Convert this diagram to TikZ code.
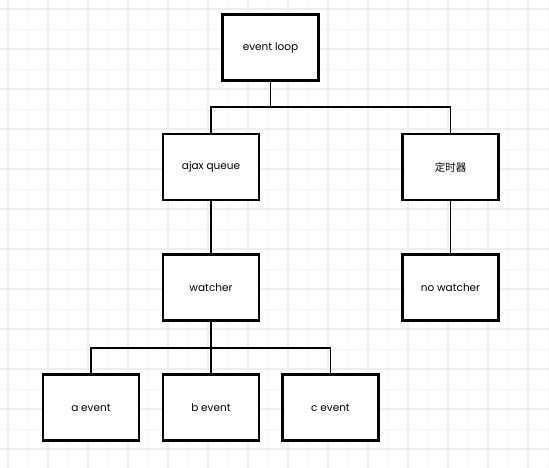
\documentclass[tikz,border=0pt]{standalone}
\usepackage{fontspec}
\setmainfont{Poppins}
\newfontfamily\cjk{Noto Sans CJK SC}
\definecolor{gridminor}{HTML}{F4F4F4}
\definecolor{gridmajor}{HTML}{EEEEEE}
\tikzset{
  box/.style={draw=black, line width=2.2pt, fill=white, minimum width=96pt, minimum height=66pt, inner sep=0pt, font=\fontsize{10.5}{12}\selectfont},
  link/.style={draw=black, line width=1.8pt}
}
\begin{document}
\begin{tikzpicture}[x=1pt,y=-1pt]
\useasboundingbox (0,0) rectangle (549,467);
\fill[white] (0,0) rectangle (549,467);
% grid
\foreach \k in {0,...,27} {
  \pgfmathtruncatemacro{\ev}{mod(\k,2)}
  \ifnum\ev=0
    \draw[gridmajor, line width=1.3pt] (8+20*\k,0) -- (8+20*\k,467);
  \else
    \draw[gridminor, line width=0.8pt] (8+20*\k,0) -- (8+20*\k,467);
  \fi
}
\foreach \k in {0,...,23} {
  \pgfmathtruncatemacro{\ev}{mod(\k,2)}
  \ifnum\ev=0
    \draw[gridmajor, line width=1.3pt] (0,9+20*\k) -- (549,9+20*\k);
  \else
    \draw[gridminor, line width=0.8pt] (0,9+20*\k) -- (549,9+20*\k);
  \fi
}
% nodes
\node[box] (loop) at (270.5,47.5) {event loop};
\node[box] (ajax) at (211,167) {ajax queue};
\node[box] (timer) at (450.5,167) {\cjk 定时器};
\node[box] (watch) at (211,287.5) {watcher};
\node[box] (nowatch) at (450.5,287.5) {no watcher};
\node[box] (a) at (91,407.5) {a event};
\node[box] (b) at (211,407.5) {b event};
\node[box] (c) at (330.5,407.5) {c event};
% connectors
\coordinate (j1) at (270.5,107);
\coordinate (j2) at (211,348);
\draw[link] (loop.south) -- (j1);
\draw[link] (ajax.north) |- (j1) -| (timer.north);
\draw[link] (ajax.south) -- (watch.north);
\draw[link] (timer.south) -- (nowatch.north);
\draw[link] (watch.south) -- (j2);
\draw[link] (b.north) -- (j2);
\draw[link] (a.north) |- (j2) -| (c.north);
\end{tikzpicture}
\end{document}
